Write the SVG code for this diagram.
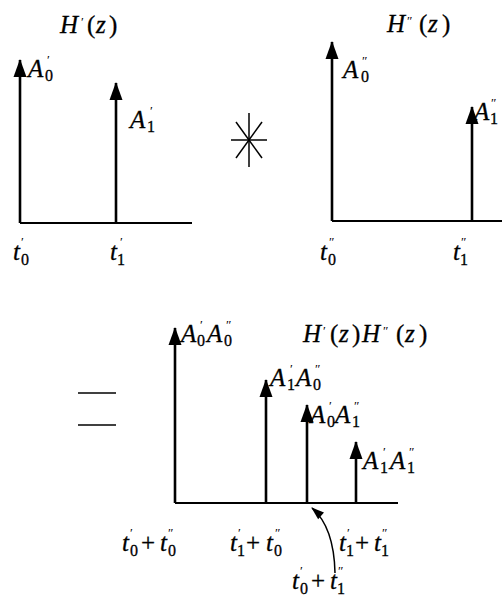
<svg xmlns="http://www.w3.org/2000/svg" width="502" height="602" viewBox="0 0 502 602">
<style>
  .m { font-family: "Liberation Serif", serif; font-size: 25px; font-style: italic; fill: #000; stroke: #000; stroke-width: 0.3; }
  .s { font-style: normal; font-size: 16px; }
  .u { font-style: normal; }
  .p { font-style: normal; font-size: 13px; stroke-width: 0; }
  .imp { stroke: #000; stroke-width: 2.6; fill: none; }
  .ax { stroke: #000; stroke-width: 1.8; fill: none; }
  .thin { stroke: #000; stroke-width: 1.5; fill: none; }
</style>
<defs>
  <marker id="ah" markerUnits="userSpaceOnUse" viewBox="-1 -8 20 16" markerWidth="20" markerHeight="16" refX="17" refY="0" orient="auto">
    <path d="M0,-6.5 L18,0 L0,6.5 z" fill="#000"/>
  </marker>
  <marker id="ahs" markerUnits="userSpaceOnUse" viewBox="-1 -6 14 12" markerWidth="14" markerHeight="12" refX="12" refY="0" orient="auto">
    <path d="M0,-4.5 L13,0 L0,4.5 z" fill="#000"/>
  </marker>
</defs>

<g id="connectors">
  <line class="ax" x1="20" y1="223" x2="192" y2="223"/>
  <line class="imp" x1="20" y1="223" x2="20" y2="60" marker-end="url(#ah)"/>
  <line class="imp" x1="116" y1="223" x2="116" y2="83" marker-end="url(#ah)"/>
  <line class="ax" x1="332" y1="221" x2="502" y2="221"/>
  <line class="imp" x1="332" y1="221" x2="332" y2="42" marker-end="url(#ah)"/>
  <line class="imp" x1="472" y1="221" x2="472" y2="107" marker-end="url(#ah)"/>
  <line class="ax" x1="175" y1="503" x2="398" y2="503"/>
  <line class="imp" x1="175" y1="503" x2="175" y2="328" marker-end="url(#ah)"/>
  <line class="imp" x1="266" y1="503" x2="266" y2="380" marker-end="url(#ah)"/>
  <line class="imp" x1="307" y1="503" x2="307" y2="405" marker-end="url(#ah)"/>
  <line class="imp" x1="356" y1="503" x2="356" y2="442" marker-end="url(#ah)"/>
  <path class="thin" d="M335,573 Q334,527 312,508" marker-end="url(#ahs)"/>
</g>

<g id="convolution">
  <line class="thin" x1="249" y1="113" x2="249" y2="167"/>
  <line class="thin" x1="231" y1="140" x2="267" y2="140"/>
  <line class="thin" x1="236" y1="122" x2="262" y2="158"/>
  <line class="thin" x1="262" y1="122" x2="236" y2="158"/>
</g>

<g id="equals">
  <line class="thin" x1="78" y1="393" x2="116" y2="393"/>
  <line class="thin" x1="78" y1="425" x2="116" y2="425"/>
</g>

<g id="plot1-labels">
  <text class="m"><tspan x="60" y="33">H</tspan><tspan class="p" x="81" y="26">′</tspan><tspan class="u" x="87" y="33">(</tspan><tspan x="96" y="33">z</tspan><tspan class="u" x="109" y="33">)</tspan></text>
  <text class="m"><tspan x="28" y="77">A</tspan><tspan class="s" x="45" y="81">0</tspan><tspan class="p" x="47" y="64">′</tspan></text>
  <text class="m"><tspan x="130" y="128">A</tspan><tspan class="s" x="147" y="132">1</tspan><tspan class="p" x="150" y="115">′</tspan></text>
  <text class="m"><tspan x="13" y="260">t</tspan><tspan class="s" x="21" y="265">0</tspan><tspan class="p" x="21" y="246">′</tspan></text>
  <text class="m"><tspan x="110" y="260">t</tspan><tspan class="s" x="117" y="265">1</tspan><tspan class="p" x="120" y="246">′</tspan></text>
</g>

<g id="plot2-labels">
  <text class="m"><tspan x="387" y="32">H</tspan><tspan class="p" x="407" y="25">″</tspan><tspan class="u" x="419" y="32">(</tspan><tspan x="428" y="32">z</tspan><tspan class="u" x="442" y="32">)</tspan></text>
  <text class="m"><tspan x="343" y="78">A</tspan><tspan class="s" x="361" y="82">0</tspan><tspan class="p" x="362" y="65">″</tspan></text>
  <text class="m"><tspan x="474" y="120">A</tspan><tspan class="s" x="490" y="124">1</tspan><tspan class="p" x="491" y="107">″</tspan></text>
  <text class="m"><tspan x="320" y="260">t</tspan><tspan class="s" x="328" y="265">0</tspan><tspan class="p" x="329" y="246">″</tspan></text>
  <text class="m"><tspan x="453" y="260">t</tspan><tspan class="s" x="460" y="265">1</tspan><tspan class="p" x="461" y="246">″</tspan></text>
</g>

<g id="plot3-labels">
  <text class="m"><tspan x="181" y="342">A</tspan><tspan class="s" x="197" y="346">0</tspan><tspan class="p" x="200" y="329">′</tspan><tspan x="207" y="342">A</tspan><tspan class="s" x="224" y="346">0</tspan><tspan class="p" x="226" y="329">″</tspan></text>
  <text class="m"><tspan x="303" y="342">H</tspan><tspan class="p" x="323" y="335">′</tspan><tspan class="u" x="330" y="342">(</tspan><tspan x="339" y="342">z</tspan><tspan class="u" x="352" y="342">)</tspan><tspan x="362" y="342">H</tspan><tspan class="p" x="383" y="335">″</tspan><tspan class="u" x="396" y="342">(</tspan><tspan x="405" y="342">z</tspan><tspan class="u" x="419" y="342">)</tspan></text>
  <text class="m"><tspan x="270" y="386">A</tspan><tspan class="s" x="287" y="390">1</tspan><tspan class="p" x="290" y="373">′</tspan><tspan x="296" y="386">A</tspan><tspan class="s" x="313" y="390">0</tspan><tspan class="p" x="315" y="373">″</tspan></text>
  <text class="m"><tspan x="310" y="423">A</tspan><tspan class="s" x="327" y="427">0</tspan><tspan class="p" x="329" y="410">′</tspan><tspan x="335" y="423">A</tspan><tspan class="s" x="352" y="427">1</tspan><tspan class="p" x="354" y="410">″</tspan></text>
  <text class="m"><tspan x="363" y="469">A</tspan><tspan class="s" x="380" y="473">1</tspan><tspan class="p" x="383" y="456">′</tspan><tspan x="390" y="469">A</tspan><tspan class="s" x="407" y="473">1</tspan><tspan class="p" x="409" y="456">″</tspan></text>
  <text class="m"><tspan x="122" y="551">t</tspan><tspan class="s" x="130" y="556">0</tspan><tspan class="p" x="130" y="537">′</tspan><tspan class="u" x="141" y="551">+</tspan><tspan x="160" y="551">t</tspan><tspan class="s" x="168" y="556">0</tspan><tspan class="p" x="168" y="537">″</tspan></text>
  <text class="m"><tspan x="230" y="551">t</tspan><tspan class="s" x="237" y="556">1</tspan><tspan class="p" x="238" y="537">′</tspan><tspan class="u" x="246" y="551">+</tspan><tspan x="266" y="551">t</tspan><tspan class="s" x="274" y="556">0</tspan><tspan class="p" x="275" y="537">″</tspan></text>
  <text class="m"><tspan x="339" y="551">t</tspan><tspan class="s" x="346" y="556">1</tspan><tspan class="p" x="347" y="537">′</tspan><tspan class="u" x="355" y="551">+</tspan><tspan x="374" y="551">t</tspan><tspan class="s" x="381" y="556">1</tspan><tspan class="p" x="382" y="537">″</tspan></text>
  <text class="m"><tspan x="292" y="589">t</tspan><tspan class="s" x="300" y="594">0</tspan><tspan class="p" x="300" y="575">′</tspan><tspan class="u" x="311" y="589">+</tspan><tspan x="330" y="589">t</tspan><tspan class="s" x="337" y="594">1</tspan><tspan class="p" x="338" y="575">″</tspan></text>
</g>
</svg>
